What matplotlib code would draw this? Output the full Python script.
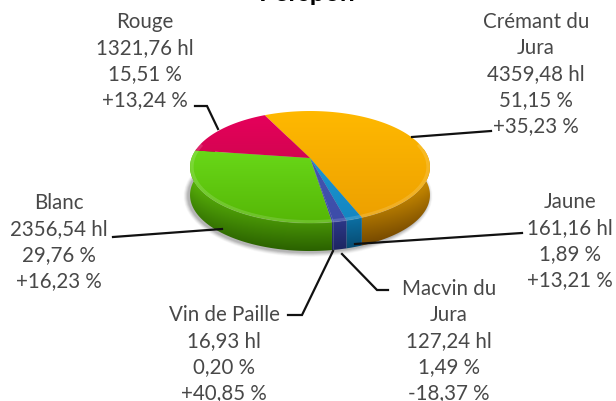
import numpy as np
import matplotlib
matplotlib.use('Agg')
import matplotlib.pyplot as plt
from matplotlib.patches import Polygon, Ellipse
from matplotlib.colors import to_rgb

title = 'Perspon'
names = ['Crémant du\nJura', 'Jaune', 'Macvin du\nJura', 'Vin de Paille', 'Blanc', 'Rouge']
volumes = ['4359,48 hl', '161,16 hl', '127,24 hl', '16,93 hl', '2356,54 hl', '1321,76 hl']
shares = [51.15, 1.89, 1.49, 0.20, 29.76, 15.51]
share_labels = ['51,15 %', '1,89 %', '1,49 %', '0,20 %', '29,76 %', '15,51 %']
changes = ['+35,23 %', '+13,21 %', '-18,37 %', '+40,85 %', '+16,23 %', '+13,24 %']

top_light = ['#ffb900', '#1fa0dc', '#4a5cb8', '#4a5cb8', '#74ea22', '#e8005c']
top_dark = ['#ec9f00', '#1485c0', '#3c4ca8', '#3c4ca8', '#55b606', '#b80a42']
side_light = ['#d09000', '#0f88c4', '#3644a2', '#3644a2', '#5cb80a', '#a0083a']
side_dark = ['#6e4300', '#07496f', '#1d2560', '#1d2560', '#2a6000', '#60001f']

label_x = [536, 570, 449, 224, 59, 145]
label_y = [22, 202, 289, 315, 203, 22]
leaders = [
    [(412, 138), (491, 132)],
    [(355, 245), (522, 234)],
    [(342, 255), (377, 291), (388, 291)],
    [(333, 252), (302, 316), (288, 316)],
    [(222, 230), (113, 238)],
    [(218, 130), (207, 107), (195, 107)],
]

apex_x, apex_y = 310, 159
half_w, near_h, persp = 118.4, 54.55, -0.161
depth = 28
start_angle = -26


def project(angle, r=1.0, drop=0.0):
    u = r * np.sin(angle)
    v = -r * np.cos(angle)
    w = 1 + persp * v
    return apex_x + half_w * u / w, apex_y + near_h * v / w + drop


def mix(c1, c2, t):
    return tuple((1 - t) * a + t * b for a, b in zip(to_rgb(c1), to_rgb(c2)))


fig = plt.figure(figsize=(6.16, 4.02), dpi=100)
ax = fig.add_axes([0, 0, 1, 1])
ax.set_xlim(0, 616)
ax.set_ylim(402, 0)
ax.axis('off')

# soft shadow below the disc
for grow, a in zip(range(9, 0, -1), np.linspace(0.02, 0.05, 9)):
    ax.add_patch(Ellipse((308, 168 + depth + 1), 240 + grow, 113 + grow, color='black', alpha=a, lw=0, zorder=1))

edges = start_angle + np.concatenate([[0], np.cumsum(shares)]) * 3.6

# side wall: one image per wedge, darker downwards and towards the front
for i in range(len(shares)):
    lo, hi = edges[i], edges[i + 1]
    front_lo, front_hi = max(lo, 60), min(hi, 300)
    if front_hi <= front_lo:
        continue
    ang = np.radians(np.linspace(front_lo, front_hi, 160))
    xa, ya = project(ang)
    xb, yb = project(ang[::-1], drop=depth)
    poly = Polygon(np.column_stack([np.r_[xa, xb], np.r_[ya, yb]]), fc='none', ec='none', zorder=2)
    ax.add_patch(poly)
    px = np.arange(180, 441)
    py = np.arange(150, 260)
    gx, gy = np.meshgrid(px, py)
    # angle around the front for each pixel column, from the rim shape
    s = np.clip((gx - apex_x) / 122, -1, 1)
    front = np.sqrt(1 - s ** 2)
    rim_y = 168 + 56 * front
    t = np.clip((gy - rim_y) / depth, 0, 1)
    w = (0.55 * t + 0.45 * front)[:, :, None]
    rgb = (1 - w) * np.array(to_rgb(side_light[i])) + w * np.array(to_rgb(side_dark[i]))
    im = ax.imshow(rgb, extent=(180, 441, 260, 150), aspect='auto', zorder=2, interpolation='bilinear')
    im.set_clip_path(poly)

# top face with vertical gradient clipped to each wedge
for i in range(len(shares)):
    ang = np.radians(np.linspace(edges[i], edges[i + 1], 120))
    x, y = project(ang)
    poly = Polygon(np.column_stack([np.r_[apex_x, x], np.r_[apex_y, y]]), fc='none', ec='none', zorder=3)
    ax.add_patch(poly)
    grad = np.linspace(0, 1, 128)[:, None, None]
    rgb = (1 - grad) * np.array(to_rgb(top_light[i])) + grad * np.array(to_rgb(top_dark[i]))
    im = ax.imshow(rgb, extent=(180, 440, 226, 110), aspect='auto', zorder=3, interpolation='bilinear')
    im.set_clip_path(poly)
    front = np.radians(np.linspace(max(edges[i], 75), min(edges[i + 1], 285), 60))
    if front[-1] > front[0]:
        xr, yr = project(front, r=0.985)
        ax.plot(xr, yr, color='white', alpha=0.14, lw=2.5, zorder=4, solid_capstyle='butt')

ax.set_xlim(0, 616)
ax.set_ylim(402, 0)

for seg in leaders:
    xs, ys = zip(*seg)
    ax.plot(xs, ys, color='#111111', lw=1.6, zorder=5, solid_joinstyle='miter')

plt.rcParams['font.family'] = ['Lato', 'DejaVu Sans']
step = 26
for i in range(len(names)):
    lines = names[i].split('\n') + [volumes[i], share_labels[i], changes[i]]
    for j, line in enumerate(lines):
        ax.text(label_x[i], label_y[i] + j * step, line, ha='center', va='center',
                fontsize=14.8, color='#484848', zorder=6)

ax.text(307, 1, title, ha='center', va='baseline', fontsize=19, fontweight='bold', color='black')

fig.savefig('out.png', dpi=100)
